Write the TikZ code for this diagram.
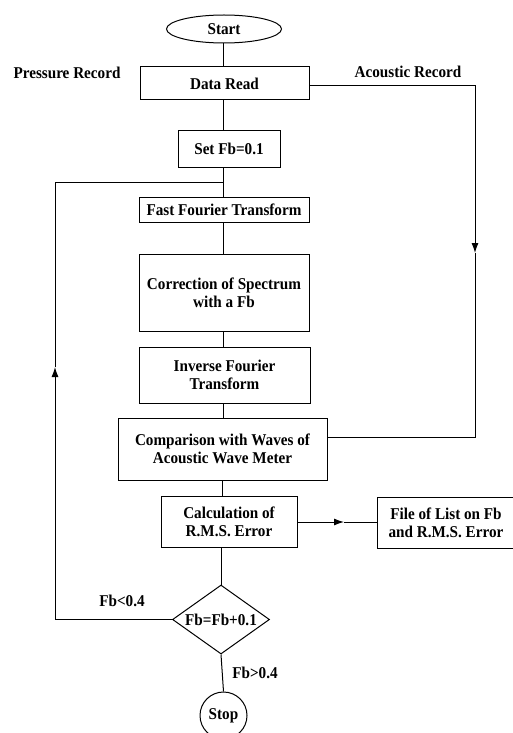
\documentclass[tikz,border=0pt]{standalone}
\usepackage{fontspec}
\setmainfont{Liberation Serif}[FakeStretch=0.92]
\usetikzlibrary{shapes.geometric,arrows.meta}
\begin{document}
\begin{tikzpicture}[x=1pt,y=-1pt,
  every node/.style={font=\bfseries\fontsize{16.5}{18}\selectfont},
  box/.style={draw,line width=1pt,inner sep=0pt,align=center},
  lbl/.style={inner sep=0pt},
  conn/.style={line width=1pt},
  tip/.style={-{Latex[length=10pt,width=7pt]}}]
\useasboundingbox (0,0) rectangle (513,733);
\coordinate (m) at (223,0);
\node[box,ellipse,minimum width=115pt,minimum height=28pt] (st) at (224,29) {Start};
\node[box,minimum width=169pt,minimum height=33pt] (dr) at (224.5,83.5) {Data Read};
\node[box,minimum width=102pt,minimum height=36pt] (sf) at (229,149) {Set Fb=0.1};
\node[box,minimum width=170pt,minimum height=25pt] (fft) at (224,209.5) {Fast Fourier Transform};
\node[box,minimum width=170pt,minimum height=77pt] (cor) at (224,292.5) {Correction of Spectrum\\with a Fb};
\node[box,minimum width=171pt,minimum height=56pt] (ift) at (224.5,375) {Inverse Fourier\\Transform};
\node[box,minimum width=209pt,minimum height=62pt] (cmp) at (222.5,449) {Comparison with Waves of\\Acoustic Wave Meter};
\node[box,minimum width=136pt,minimum height=51pt] (calc) at (229,521.5) {Calculation of\\R.M.S. Error};
\node[box,minimum width=138pt,minimum height=51pt] (file) at (446,522.5) {File of List on Fb\\and R.M.S. Error};
\node[box,diamond,aspect=1.4,minimum width=97pt,minimum height=69pt] (dec) at (221,619.5) {Fb=Fb+0.1};
\node[box,circle,minimum size=47pt] (stop) at (223.5,715.5) {Stop};
\node[lbl] (pr) at (67,73) {Pressure Record};
\node[lbl] (ar) at (408,72) {Acoustic Record};
\node[lbl] (lt) at (122,601) {Fb<0.4};
\node[lbl] (gt) at (255,673) {Fb>0.4};
\coordinate (j) at (223,182);
\coordinate (l1) at (55,619.5);
\coordinate (l2) at (55,367);
\coordinate (l3) at (55,182);
\coordinate (r1) at (475,86);
\coordinate (r2) at (475,253);
\coordinate (r3) at (475,437);
\coordinate (r4) at (320,522);
\coordinate (r5) at (344,522);
% main column
\draw[conn] (st.south -| m) -- (dr.north -| m);
\draw[conn] (dr.south -| m) -- (sf.north -| m);
\draw[conn] (sf.south -| m) -- (fft.north -| m);
\draw[conn] (fft.south -| m) -- (cor.north -| m);
\draw[conn] (cor.south -| m) -- (ift.north -| m);
\draw[conn] (ift.south -| m) -- (cmp.north -| m);
\draw[conn] (cmp.south -| 222,0) -- (calc.north -| 222,0);
\draw[conn] (calc.south -| dec) -- (dec.north);
\draw[conn] (dec.south) -- (stop.north);
% acoustic record branch
\draw[conn,tip] (dr.east |- r1) -- (r1) -- (r2);
\draw[conn] (r2) -- (r3) -- (cmp.east |- r3);
% to file
\draw[conn,tip] (calc.east |- r4) -- (r5);
\draw[conn] (r5) -- (file.west |- r5);
% loop back
\draw[conn,tip] (dec.west) -- (l1) -- (l2);
\draw[conn] (l2) -- (l3) -- (j);
\end{tikzpicture}
\end{document}
